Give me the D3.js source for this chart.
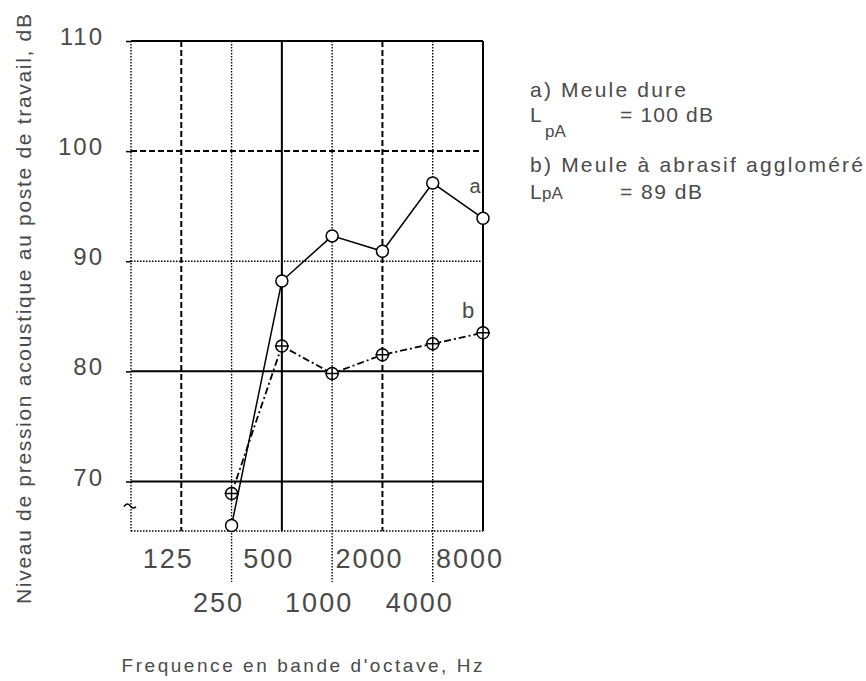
<!DOCTYPE html>
<html>
<head>
<meta charset="utf-8">
<script src="https://cdn.jsdelivr.net/npm/d3@7"></script>
<style>
  body { margin: 0; background: #fff; }
  text { font-family: "Liberation Sans", "DejaVu Sans", sans-serif; fill: #4a4a4a; }
</style>
</head>
<body>
<svg width="866" height="681"></svg>
<script>
// octave bands (63 Hz has no label, it is just the left border)
var bands = ['63', '125', '250', '500', '1000', '2000', '4000', '8000'];
var topLabels = ['125', '500', '2000', '8000'];
var bottomLabels = ['250', '1000', '4000'];
var yTicks = [70, 80, 90, 100, 110];

// a) Meule dure
var seriesA = [66, 88.2, 92.3, 90.9, 97.1, 93.9];
// b) Meule a abrasif agglomere
var seriesB = [68.9, 82.3, 79.8, 81.5, 82.5, 83.5];
var dataBands = ['250', '500', '1000', '2000', '4000', '8000'];

var svg = d3.select('svg');
svg.append('rect').attr('width', 866).attr('height', 681).attr('fill', '#fff');

var x = d3.scalePoint().domain(bands).range([131, 483]);
var y = d3.scaleLinear().domain([65.5, 110]).range([531, 41]);

var DOT = '1.5,1.5', DASH = '6,3';

// vertical grid
var vStyle = {'63': DOT, '125': DASH, '250': DOT, '500': null, '1000': DOT, '2000': DASH, '4000': DOT, '8000': null};
var g = svg.append('g');
bands.forEach(function (b) {
    var down = (vStyle[b] == DOT && b != '63') ? 582 : y(65.5);
    g.append('line')
        .attr('x1', x(b)).attr('x2', x(b)).attr('y1', y(110)).attr('y2', down)
        .attr('stroke', '#000')
        .attr('stroke-width', vStyle[b] == DOT ? 1.4 : 2)
        .attr('stroke-dasharray', vStyle[b]);
});

// horizontal grid
var hStyle = {70: null, 80: null, 90: DOT, 100: DASH, 110: null};
yTicks.forEach(function (t) {
    g.append('line')
        .attr('x1', x('63')).attr('x2', x('8000')).attr('y1', y(t)).attr('y2', y(t))
        .attr('stroke', '#000')
        .attr('stroke-width', hStyle[t] == DOT ? 1.4 : 2)
        .attr('stroke-dasharray', hStyle[t]);
});
g.append('line')
    .attr('x1', x('63')).attr('x2', x('8000')).attr('y1', y(65.5)).attr('y2', y(65.5))
    .attr('stroke', '#000').attr('stroke-width', 1.4).attr('stroke-dasharray', DOT);

// y axis ticks + labels
var yAxis = svg.append('g').attr('transform', 'translate(' + x('63') + ',0)')
    .call(d3.axisLeft(y).tickValues(yTicks).tickSize(5).tickPadding(22));
yAxis.select('.domain').remove();
yAxis.selectAll('line').attr('stroke', '#000').attr('stroke-width', 1.5);
yAxis.selectAll('text')
    .attr('fill', '#4a4a4a').attr('font-size', 24).attr('letter-spacing', 2)
    .attr('dy', '0.15em').attr('font-family', 'Liberation Sans');

// broken axis mark
svg.append('path')
    .attr('transform', 'translate(' + x('63') + ',' + y(67.8) + ')')
    .attr('d', 'M-7,1 q3,-5 6,-1 t6,1')
    .attr('fill', 'none').attr('stroke', '#000').attr('stroke-width', 1.5);

// x tick labels, two staggered rows
svg.selectAll('.xt1').data(topLabels).enter().append('text')
    .attr('x', function (d) { return x(d) - 13; }).attr('y', 568)
    .attr('text-anchor', 'middle').attr('font-size', 27).attr('letter-spacing', 2)
    .text(function (d) { return d; });
svg.selectAll('.xt2').data(bottomLabels).enter().append('text')
    .attr('x', function (d) { return x(d) - 13; }).attr('y', 612)
    .attr('text-anchor', 'middle').attr('font-size', 27).attr('letter-spacing', 2)
    .text(function (d) { return d; });

// lines
var lineA = d3.line().x(function (d, i) { return x(dataBands[i]); }).y(function (d) { return y(d); });
svg.append('path').datum(seriesA).attr('d', lineA)
    .attr('fill', 'none').attr('stroke', '#000').attr('stroke-width', 1.5);
svg.append('path').datum(seriesB).attr('d', lineA)
    .attr('fill', 'none').attr('stroke', '#000').attr('stroke-width', 1.8)
    .attr('stroke-dasharray', '7,3,2,3');

// markers a
svg.selectAll('.ma').data(seriesA).enter().append('circle')
    .attr('cx', function (d, i) { return x(dataBands[i]); }).attr('cy', function (d) { return y(d); })
    .attr('r', 6).attr('fill', '#fff').attr('stroke', '#000').attr('stroke-width', 1.5);

// markers b (circle with cross)
var mb = svg.selectAll('.mb').data(seriesB).enter().append('g')
    .attr('transform', function (d, i) { return 'translate(' + x(dataBands[i]) + ',' + y(d) + ')'; });
mb.append('circle').attr('r', 6).attr('fill', '#fff').attr('stroke', '#000').attr('stroke-width', 1.5);
mb.append('path').attr('d', 'M-7,0H7M0,-7V7').attr('stroke', '#000').attr('stroke-width', 1.5);

// series letters
svg.append('text').attr('x', x('8000') - 8).attr('y', y(96.2)).attr('text-anchor', 'middle')
    .attr('font-size', 20).text('a');
svg.append('text').attr('x', x('8000') - 15).attr('y', y(84.8)).attr('text-anchor', 'middle')
    .attr('font-size', 22).text('b');

// legend
var leg = svg.append('g');
leg.append('text').attr('x', 530).attr('y', 97).attr('font-size', 21)
    .attr('textLength', 156).attr('lengthAdjust', 'spacing').text('a) Meule dure');
leg.append('text').attr('x', 530).attr('y', 122).attr('font-size', 21).text('L');
leg.append('text').attr('x', 545).attr('y', 137).attr('font-size', 17).text('pA');
leg.append('text').attr('x', 620).attr('y', 122).attr('font-size', 21)
    .attr('textLength', 93).attr('lengthAdjust', 'spacing').text('= 100 dB');
leg.append('text').attr('x', 530).attr('y', 172).attr('font-size', 21)
    .attr('textLength', 333).attr('lengthAdjust', 'spacing').text('b) Meule à abrasif aggloméré');
leg.append('text').attr('x', 530).attr('y', 199).attr('font-size', 21).text('L');
leg.append('text').attr('x', 542).attr('y', 199).attr('font-size', 17).text('pA');
leg.append('text').attr('x', 620).attr('y', 199).attr('font-size', 21)
    .attr('textLength', 82).attr('lengthAdjust', 'spacing').text('= 89 dB');

// axis titles
svg.append('text').attr('transform', 'translate(31,309) rotate(-90)')
    .attr('text-anchor', 'middle').attr('font-size', 21)
    .attr('textLength', 590).attr('lengthAdjust', 'spacing')
    .text('Niveau de pression acoustique au poste de travail, dB');
svg.append('text').attr('x', 302).attr('y', 672).attr('text-anchor', 'middle').attr('font-size', 19)
    .attr('textLength', 361).attr('lengthAdjust', 'spacing')
    .text("Frequence en bande d'octave, Hz");
</script>
</body>
</html>
